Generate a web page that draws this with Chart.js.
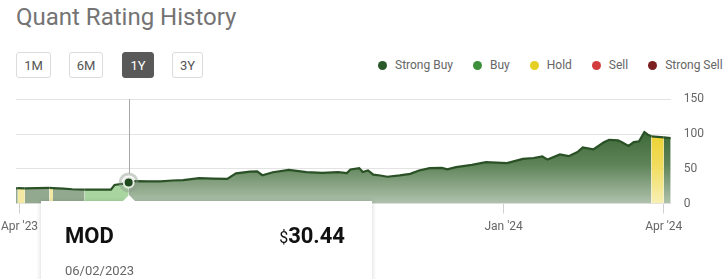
<!DOCTYPE html>
<html>
<head>
<meta charset="utf-8">
<script src="https://cdn.jsdelivr.net/npm/chart.js@4.4.1/dist/chart.umd.min.js"></script>
<style>
    html, body { margin: 0; padding: 0; background: #fff; width: 727px; height: 279px; overflow: hidden; font-family: Roboto, "Noto Sans", sans-serif; }
    .title { position: absolute; left: 16px; top: 5px; font-size: 24px; line-height: 24px; color: #747474; white-space: nowrap; }
    .btn { position: absolute; top: 52px; height: 26px; box-sizing: border-box; border: 1px solid #dcdcdc; border-radius: 3px; font-size: 13px; color: #555; display: flex; align-items: center; justify-content: center; }
    .btn.active { background: #595959; border-color: #595959; color: #fff; }
    .legend { position: absolute; left: 378px; top: 58px; display: flex; gap: 20px; font-size: 12px; line-height: 14px; color: #666; white-space: nowrap; }
    .legend .item { display: flex; align-items: center; gap: 8px; }
    .legend .dot { width: 9px; height: 9px; border-radius: 50%; }
    #wrap { position: absolute; left: 0; top: 79px; width: 727px; height: 164px; }
    .tip { position: absolute; left: 41px; top: 201px; width: 331px; height: 100px; background: #fff; box-shadow: 0 1px 5px rgba(0,0,0,0.18); z-index: 2; }
    .tip-arrow { position: absolute; top: 195px; width: 0; height: 0; border-left: 6px solid transparent; border-right: 6px solid transparent; border-bottom: 6px solid #fff; z-index: 3; }
    .tip .sym { position: absolute; left: 24px; top: 24px; font-size: 22px; line-height: 22px; font-weight: 700; color: #111; }
    .tip .price { position: absolute; right: 27px; top: 24px; font-size: 22px; line-height: 22px; font-weight: 700; color: #111; }
    .tip .price small { font-size: 16px; font-weight: 400; }
    .tip .date { position: absolute; left: 24px; top: 63px; font-size: 13px; line-height: 13px; color: #666; }
</style>
</head>
<body>
<div class="title">Quant Rating History</div>
<div class="btn" style="left:16px;width:35px">1M</div>
<div class="btn" style="left:69px;width:34px">6M</div>
<div class="btn active" style="left:122px;width:32px">1Y</div>
<div class="btn" style="left:172px;width:31px">3Y</div>
<div class="legend" id="legend"></div>
<div id="wrap"><canvas id="quantChart"></canvas></div>
<div class="tip-arrow" id="tipArrow"></div>
<div class="tip">
    <div class="sym" id="tipSym"></div>
    <div class="price" id="tipPrice"></div>
    <div class="date" id="tipDate"></div>
</div>
<script>
const ticker = "MOD";

const ratingNames = ["Strong Buy", "Buy", "Hold", "Sell", "Strong Sell"];
const ratingColors = ["#2b5a2a", "#3d8f3c", "#e6cf25", "#d23c3c", "#7b1f20"];

// rating applies from this date until the next one
const dates = [
    "2023-03-30", "2023-03-31", "2023-04-04", "2023-04-11", "2023-04-18", "2023-04-20", "2023-04-26", "2023-05-01",
    "2023-05-08", "2023-05-15", "2023-05-23", "2023-05-25", "2023-05-30", "2023-06-02", "2023-06-06", "2023-06-13",
    "2023-06-20", "2023-06-27", "2023-07-03", "2023-07-12", "2023-07-20", "2023-07-28", "2023-08-02", "2023-08-10",
    "2023-08-14", "2023-08-17", "2023-08-23", "2023-09-01", "2023-09-11", "2023-09-20", "2023-09-29", "2023-10-04",
    "2023-10-06", "2023-10-11", "2023-10-13", "2023-10-16", "2023-10-19", "2023-10-23", "2023-10-27", "2023-11-03",
    "2023-11-09", "2023-11-14", "2023-11-20", "2023-11-27", "2023-11-30", "2023-12-05", "2023-12-14", "2023-12-22",
    "2024-01-03", "2024-01-12", "2024-01-18", "2024-01-23", "2024-01-26", "2024-02-02", "2024-02-07", "2024-02-12",
    "2024-02-15", "2024-02-21", "2024-02-27", "2024-03-01", "2024-03-06", "2024-03-08", "2024-03-12", "2024-03-15",
    "2024-03-18", "2024-03-21", "2024-03-23", "2024-03-25", "2024-04-01", "2024-04-05",
];
const prices = [
    22.0, 22.2, 21.8, 22.3, 22.5, 22.2, 21.6, 20.6,
    20.0, 20.1, 20.2, 26.8, 28.6, 30.44, 32.3, 31.8,
    31.9, 33.2, 33.8, 36.6, 35.9, 35.6, 43.4, 46.0,
    46.2, 40.8, 45.0, 48.4, 45.2, 44.2, 45.3, 43.8,
    49.0, 51.0, 45.4, 47.6, 41.6, 40.4, 38.6, 40.6,
    42.8, 47.6, 51.0, 51.2, 49.2, 52.4, 55.6, 59.5,
    58.1, 64.3, 65.5, 67.8, 63.2, 70.6, 68.2, 74.0,
    80.6, 78.0, 88.2, 91.6, 90.9, 88.5, 82.8, 88.3,
    89.5, 102.6, 99.0, 96.6, 95.2, 94.2,
];
const ratings = [
    "Strong Buy", "Hold", "Strong Buy", "Strong Buy", "Hold", "Strong Buy", "Strong Buy", "Strong Buy",
    "Buy", "Buy", "Buy", "Buy", "Buy", "Strong Buy", "Strong Buy", "Strong Buy",
    "Strong Buy", "Strong Buy", "Strong Buy", "Strong Buy", "Strong Buy", "Strong Buy", "Strong Buy", "Strong Buy",
    "Strong Buy", "Strong Buy", "Strong Buy", "Strong Buy", "Strong Buy", "Strong Buy", "Strong Buy", "Strong Buy",
    "Strong Buy", "Strong Buy", "Strong Buy", "Strong Buy", "Strong Buy", "Strong Buy", "Strong Buy", "Strong Buy",
    "Strong Buy", "Strong Buy", "Strong Buy", "Strong Buy", "Strong Buy", "Strong Buy", "Strong Buy", "Strong Buy",
    "Strong Buy", "Strong Buy", "Strong Buy", "Strong Buy", "Strong Buy", "Strong Buy", "Strong Buy", "Strong Buy",
    "Strong Buy", "Strong Buy", "Strong Buy", "Strong Buy", "Strong Buy", "Strong Buy", "Strong Buy", "Strong Buy",
    "Strong Buy", "Strong Buy", "Strong Buy", "Hold", "Strong Buy", "Strong Buy",
];

const xTickDates = ["2023-04-01", "2024-01-01", "2024-04-01"];
const xTickLabels = ["Apr '23", "Jan '24", "Apr '24"];
const yTicks = [0, 50, 100, 150];

const hoverDate = "2023-06-02";
const hoverIdx = dates.indexOf(hoverDate);

// fill colours: full (after hover point) as gradient stops, faded (before it) flat
const fullStops = {
    "Strong Buy": ["#3d6a38", "#5e8358", "#b0c2ad"],
    "Buy": ["#3f8f3a", "#6fae69", "#c0dcbb"],
    "Hold": ["#edd230", "#f1dc5c", "#f8f0b5"],
};
const fadedFill = { "Strong Buy": "#93a98f", "Buy": "#a8d5a0", "Hold": "#f4e9a2" };

function dayOf(s) {
    const [y, m, d] = s.split("-").map(Number);
    return (Date.UTC(y, m - 1, d) - Date.UTC(2023, 3, 1)) / 86400000;
}

let gradCache = {};
function gradientFor(chart, rating) {
    const area = chart.chartArea;
    const key = rating + area.bottom + area.top;
    if (!gradCache[key]) {
        const top = chart.scales.y.getPixelForValue(Math.max(...prices));
        const g = chart.ctx.createLinearGradient(0, top, 0, area.bottom);
        const st = fullStops[rating];
        g.addColorStop(0, st[0]);
        g.addColorStop(0.45, st[1]);
        g.addColorStop(1, st[2]);
        gradCache[key] = g;
    }
    return gradCache[key];
}

function segFill(c) {
    const rating = ratings[c.p0DataIndex];
    if (c.p1DataIndex <= hoverIdx) return fadedFill[rating];
    if (!c.chart || !c.chart.chartArea) return fullStops[rating][0];
    return gradientFor(c.chart, rating);
}

const hoverMarker = {
    id: "hoverMarker",
    afterDatasetsDraw(chart) {
        const pt = chart.getDatasetMeta(0).data[hoverIdx];
        const ctx = chart.ctx;
        const x = Math.round(pt.x) + 0.5;
        ctx.save();
        ctx.strokeStyle = "#a8a8a8";
        ctx.lineWidth = 1;
        ctx.beginPath();
        ctx.moveTo(x, chart.chartArea.top);
        ctx.lineTo(x, pt.y - 9);
        ctx.stroke();
        ctx.strokeStyle = "rgba(140,152,140,0.45)";
        ctx.lineWidth = 3;
        ctx.beginPath();
        ctx.arc(pt.x, pt.y, 8.5, 0, Math.PI * 2);
        ctx.stroke();
        ctx.restore();
    },
};

// legend
document.getElementById("legend").innerHTML = ratingNames
    .map((n, i) => `<div class="item"><span class="dot" style="background:${ratingColors[i]}"></span>${n}</div>`)
    .join("");

const chart = new Chart(document.getElementById("quantChart"), {
    type: "line",
    data: {
        datasets: [{
            data: dates.map((d, i) => ({ x: dayOf(d), y: prices[i] })),
            borderColor: "#2a5126",
            borderWidth: 2.2,
            fill: "origin",
            tension: 0,
            backgroundColor: fadedFill["Strong Buy"],
            pointRadius: (c) => (c.dataIndex === hoverIdx ? 5 : 0),
            pointBackgroundColor: "#1f4a1d",
            pointBorderColor: "#e6ebe6",
            pointBorderWidth: 2,
            segment: { backgroundColor: segFill },
        }],
    },
    options: {
        responsive: true,
        maintainAspectRatio: false,
        animation: false,
        events: [],
        layout: { padding: { left: 16, right: 10, top: 4, bottom: 3 } },
        plugins: { legend: { display: false }, tooltip: { enabled: false } },
        scales: {
            x: {
                type: "linear",
                min: dayOf(dates[0]),
                max: dayOf(dates[dates.length - 1]),
                afterBuildTicks: (axis) => { axis.ticks = xTickDates.map((d) => ({ value: dayOf(d) })); },
                afterFit: (axis) => { axis.paddingLeft = 0; },
                ticks: {
                    autoSkip: false,
                    maxRotation: 0,
                    padding: 6,
                    color: "#666",
                    font: { family: "Roboto", size: 12 },
                    callback: (v) => xTickLabels[xTickDates.findIndex((d) => dayOf(d) === v)],
                },
                grid: { drawOnChartArea: false, tickLength: 10, color: "#d0d0d0" },
                border: { display: false },
            },
            y: {
                position: "right",
                min: 0,
                max: 150,
                afterBuildTicks: (axis) => { axis.ticks = yTicks.map((v) => ({ value: v })); },
                ticks: { padding: 13, color: "#666", font: { family: "Roboto", size: 12 } },
                grid: { color: "#e3e3e3", drawTicks: false },
                border: { display: false },
            },
        },
    },
    plugins: [hoverMarker],
});

// tooltip card
const [hy, hm, hd] = hoverDate.split("-");
document.getElementById("tipSym").textContent = ticker;
document.getElementById("tipPrice").innerHTML = `<small>$</small>${prices[hoverIdx].toFixed(2)}`;
document.getElementById("tipDate").textContent = `${hm}/${hd}/${hy}`;
const hx = chart.getDatasetMeta(0).data[hoverIdx].x;
document.getElementById("tipArrow").style.left = (hx - 6) + "px";
</script>
</body>
</html>
